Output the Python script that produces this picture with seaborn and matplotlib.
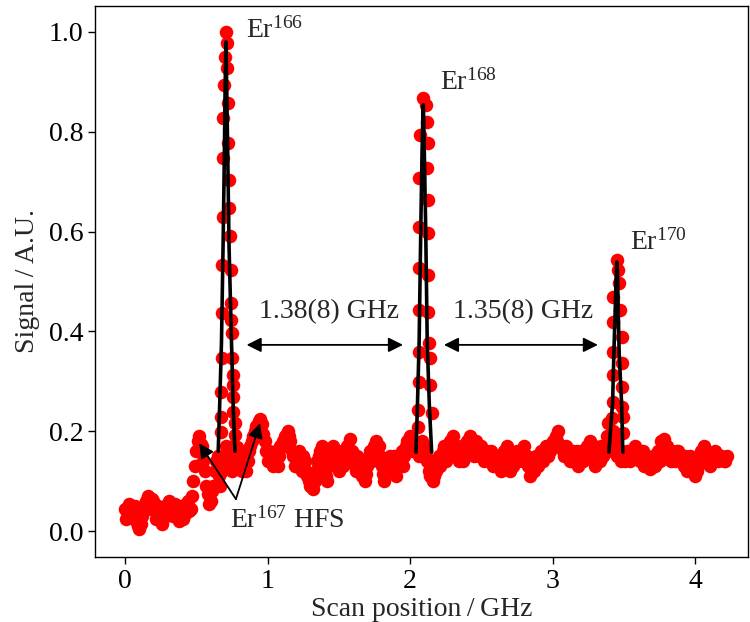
import numpy as np
import pandas as pd
import matplotlib
matplotlib.use("Agg")
import matplotlib.pyplot as plt
import seaborn as sns

# ---------------- data ----------------
scan_start = 0.0
scan_step = 0.02
# samples on the even grid 0.00, 0.02, ...
baseline_signal = [
    0.045, 0.035, 0.050, 0.030, 0.020, 0.005, 0.030, 0.055, 0.070, 0.045,
    0.060, 0.025, 0.040, 0.015, 0.050, 0.035, 0.055, 0.030, 0.045, 0.020,
    0.050, 0.035, 0.060, 0.045, 0.100, 0.160, 0.190, 0.170, 0.120, 0.075,
    0.060, 0.090, 0.140, 0.110, 0.120, 0.150, 0.160, 0.140, 0.170, 0.130,
    0.150, 0.120, 0.160, 0.140, 0.170, 0.190, 0.210, 0.220, 0.215, 0.180,
    0.140, 0.150, 0.130, 0.160, 0.150, 0.170, 0.190, 0.200, 0.180, 0.150,
    0.130, 0.160, 0.120, 0.140, 0.110, 0.090, 0.085, 0.120, 0.150, 0.170,
    0.130, 0.100, 0.140, 0.170, 0.150, 0.120, 0.160, 0.140, 0.170, 0.185,
    0.150, 0.120, 0.140, 0.110, 0.100, 0.130, 0.160, 0.150, 0.180, 0.170,
    0.130, 0.100, 0.120, 0.150, 0.130, 0.110, 0.140, 0.160, 0.150, 0.180,
    0.190, 0.160, 0.170, 0.150, 0.180, 0.170, 0.140, 0.110, 0.100, 0.120,
    0.150, 0.140, 0.170, 0.150, 0.180, 0.190, 0.160, 0.140, 0.170, 0.150,
    0.180, 0.190, 0.160, 0.180, 0.150, 0.170, 0.140, 0.160, 0.150, 0.130,
    0.150, 0.140, 0.120, 0.160, 0.170, 0.120, 0.130, 0.150, 0.140, 0.160,
    0.170, 0.150, 0.110, 0.130, 0.150, 0.130, 0.160, 0.150, 0.170, 0.160,
    0.180, 0.190, 0.200, 0.170, 0.150, 0.160, 0.140, 0.160, 0.150, 0.130,
    0.160, 0.150, 0.170, 0.180, 0.160, 0.130, 0.150, 0.170, 0.160, 0.190,
    0.170, 0.200, 0.180, 0.160, 0.140, 0.150, 0.160, 0.140, 0.150, 0.170,
    0.160, 0.150, 0.130, 0.140, 0.125, 0.150, 0.130, 0.160, 0.180, 0.185,
    0.170, 0.150, 0.160, 0.140, 0.160, 0.150, 0.130, 0.120, 0.150, 0.140,
    0.110, 0.130, 0.160, 0.170, 0.140, 0.130, 0.150, 0.160, 0.140, 0.150,
    0.140, 0.150,
]
# samples on the odd grid 0.01, 0.03, ...
baseline_signal_mid = [
    0.025, 0.055, 0.040, 0.050, 0.010, 0.015, 0.045, 0.060, 0.050, 0.065,
    0.040, 0.050, 0.020, 0.035, 0.030, 0.060, 0.040, 0.055, 0.030, 0.040,
    0.025, 0.055, 0.040, 0.070, 0.130, 0.180, 0.175, 0.140, 0.090, 0.055,
    0.080, 0.120, 0.150, 0.090, 0.140, 0.170, 0.150, 0.120, 0.150, 0.160,
    0.130, 0.150, 0.120, 0.160, 0.180, 0.200, 0.190, 0.225, 0.195, 0.160,
    0.160, 0.140, 0.150, 0.130, 0.170, 0.180, 0.170, 0.190, 0.160, 0.130,
    0.150, 0.130, 0.150, 0.120, 0.100, 0.110, 0.100, 0.140, 0.160, 0.150,
    0.110, 0.130, 0.160, 0.140, 0.130, 0.150, 0.130, 0.160, 0.150, 0.160,
    0.130, 0.150, 0.120, 0.130, 0.115, 0.150, 0.140, 0.170, 0.150, 0.150,
    0.115, 0.130, 0.140, 0.120, 0.150, 0.130, 0.150, 0.130, 0.170, 0.160,
    0.170, 0.180, 0.160, 0.170, 0.160, 0.150, 0.120, 0.130, 0.110, 0.140,
    0.130, 0.160, 0.140, 0.170, 0.160, 0.170, 0.150, 0.160, 0.140, 0.170,
    0.160, 0.170, 0.150, 0.160, 0.170, 0.150, 0.150, 0.140, 0.160, 0.145,
    0.130, 0.150, 0.140, 0.135, 0.125, 0.145, 0.140, 0.160, 0.150, 0.140,
    0.150, 0.130, 0.140, 0.120, 0.140, 0.150, 0.140, 0.170, 0.150, 0.170,
    0.170, 0.180, 0.170, 0.160, 0.170, 0.150, 0.150, 0.140, 0.160, 0.150,
    0.140, 0.160, 0.160, 0.150, 0.170, 0.150, 0.140, 0.150, 0.170, 0.160,
    0.190, 0.170, 0.150, 0.160, 0.150, 0.140, 0.150, 0.160, 0.160, 0.150,
    0.140, 0.160, 0.150, 0.130, 0.140, 0.140, 0.150, 0.140, 0.170, 0.160,
    0.160, 0.140, 0.150, 0.160, 0.140, 0.140, 0.150, 0.140, 0.130, 0.120,
    0.120, 0.145, 0.150, 0.150, 0.140, 0.150, 0.140, 0.155, 0.150, 0.145,
    0.140,
]

peak166_x = [0.708, 0.715, 0.701, 0.715, 0.694, 0.722, 0.687, 0.722, 0.687, 0.729,
             0.729, 0.687, 0.736, 0.680, 0.743, 0.743, 0.680, 0.743, 0.750, 0.680,
             0.750, 0.757, 0.757, 0.673, 0.757, 0.757, 0.673, 0.771, 0.673, 0.771, 0.785]
peak166_y = [1.000, 0.978, 0.950, 0.928, 0.894, 0.858, 0.828, 0.778, 0.747, 0.703,
             0.647, 0.630, 0.591, 0.533, 0.523, 0.457, 0.437, 0.423, 0.397, 0.347,
             0.347, 0.313, 0.293, 0.279, 0.269, 0.238, 0.228, 0.216, 0.198, 0.192, 0.168]

peak168_x = [2.090, 2.111, 2.118, 2.069, 2.125, 2.118, 2.062, 2.125, 2.062, 2.125,
             2.062, 2.125, 2.062, 2.125, 2.132, 2.062, 2.139, 2.062, 2.139, 2.055,
             2.153, 2.055]
peak168_y = [0.868, 0.854, 0.820, 0.794, 0.778, 0.727, 0.707, 0.663, 0.610, 0.597,
             0.527, 0.513, 0.443, 0.439, 0.377, 0.359, 0.347, 0.299, 0.293, 0.242,
             0.236, 0.208]

peak170_x = [3.450, 3.457, 3.464, 3.422, 3.471, 3.422, 3.485, 3.422, 3.485, 3.422,
             3.485, 3.422, 3.485, 3.415, 3.492, 3.387, 3.492]
peak170_y = [0.543, 0.523, 0.497, 0.469, 0.443, 0.419, 0.389, 0.359, 0.337, 0.313,
             0.289, 0.259, 0.249, 0.226, 0.228, 0.216, 0.196]

fit166_x = [0.654, 0.664, 0.677, 0.688, 0.697, 0.702, 0.706, 0.708, 0.710, 0.714,
            0.721, 0.730, 0.747, 0.759, 0.771]
fit166_y = [0.160, 0.250, 0.380, 0.570, 0.750, 0.880, 0.950, 0.980, 0.950, 0.880,
            0.750, 0.570, 0.380, 0.250, 0.160]

fit168_x = [2.041, 2.051, 2.063, 2.075, 2.083, 2.089, 2.092, 2.095, 2.100, 2.109,
            2.120, 2.135, 2.151]
fit168_y = [0.158, 0.250, 0.377, 0.610, 0.750, 0.830, 0.854, 0.830, 0.750, 0.610,
            0.377, 0.250, 0.158]

fit170_x = [3.394, 3.420, 3.429, 3.439, 3.446, 3.450, 3.454, 3.459, 3.466, 3.483, 3.492]
fit170_y = [0.158, 0.257, 0.357, 0.450, 0.520, 0.539, 0.520, 0.450, 0.357, 0.257, 0.158]

x_ticks = [0, 1, 2, 3, 4]
y_ticks = [0.0, 0.2, 0.4, 0.6, 0.8, 1.0]

# ---------------- styling ----------------
sns.set_theme(style="ticks")
plt.rcParams["font.family"] = ["Liberation Serif", "DejaVu Serif"]
plt.rcParams["mathtext.fontset"] = "custom"
plt.rcParams["mathtext.rm"] = "Liberation Serif"
plt.rcParams["mathtext.it"] = "Liberation Serif:italic"
plt.rcParams["mathtext.default"] = "regular"

FS = 20

fig = plt.figure(figsize=(7.5, 6.22), dpi=100)
ax = fig.add_axes([0.1267, 0.1045, 0.8707, 0.8859])

baseline_x = scan_start + scan_step * np.arange(len(baseline_signal))
baseline_mid_x = scan_start + scan_step / 2 + scan_step * np.arange(len(baseline_signal_mid))
df = pd.DataFrame({
    "x": np.concatenate([baseline_x, baseline_mid_x, peak166_x, peak168_x, peak170_x]),
    "y": np.concatenate([baseline_signal, baseline_signal_mid,
                         peak166_y, peak168_y, peak170_y]),
})
sns.scatterplot(data=df, x="x", y="y", color="#ff0000", s=95, linewidth=0,
                ax=ax, zorder=2, legend=False)

for fx, fy in [(fit166_x, fit166_y), (fit168_x, fit168_y), (fit170_x, fit170_y)]:
    sns.lineplot(x=fx, y=fy, sort=False, estimator=None, color="black",
                 lw=2.6, ax=ax, zorder=3)

ax.set_xlim(-0.21, 4.37)
ax.set_ylim(-0.052, 1.052)
ax.set_xticks(x_ticks)
ax.set_xticklabels([str(t) for t in x_ticks])
ax.set_yticks(y_ticks)
ax.set_yticklabels([f"{t:.1f}" for t in y_ticks])
ax.tick_params(axis="both", labelsize=FS, direction="out", length=5, width=1,
               color="black", labelcolor="black", top=False, right=False)
for sp in ax.spines.values():
    sp.set_visible(True)
    sp.set_color("black")
    sp.set_linewidth(1.0)

ax.set_xlabel("Scan position\u2009/\u2009GHz", fontsize=FS, labelpad=2)
ax.set_ylabel("Signal\u2009/\u2009A.U.", fontsize=FS, labelpad=6)

# peak labels
ax.text(0.849, 0.988, "Er$^{166}$", fontsize=FS, ha="left", va="baseline")
ax.text(2.209, 0.884, "Er$^{168}$", fontsize=FS, ha="left", va="baseline")
ax.text(3.541, 0.563, "Er$^{170}$", fontsize=FS, ha="left", va="baseline")

# spacing annotations
arrow_kw = dict(arrowstyle="<|-|>", color="black", lw=1.3, mutation_scale=22,
                shrinkA=0, shrinkB=0)
ax.annotate("", xy=(0.853, 0.373), xytext=(1.950, 0.373), arrowprops=arrow_kw)
ax.annotate("", xy=(2.237, 0.373), xytext=(3.317, 0.373), arrowprops=arrow_kw)
ax.text(1.431, 0.427, "1.38(8) GHz", fontsize=FS, ha="center", va="baseline")
ax.text(2.790, 0.427, "1.35(8) GHz", fontsize=FS, ha="center", va="baseline")

# HFS annotation
hfs_kw = dict(arrowstyle="-|>", color="black", lw=1.3, mutation_scale=22,
              shrinkA=0, shrinkB=0)
ax.annotate("", xy=(0.521, 0.176), xytext=(0.778, 0.064), arrowprops=hfs_kw)
ax.annotate("", xy=(0.947, 0.216), xytext=(0.778, 0.064), arrowprops=hfs_kw)
ax.text(0.736, 0.006, "Er$^{167}$ HFS", fontsize=FS, ha="left", va="baseline")

fig.savefig("out.png", dpi=100)
